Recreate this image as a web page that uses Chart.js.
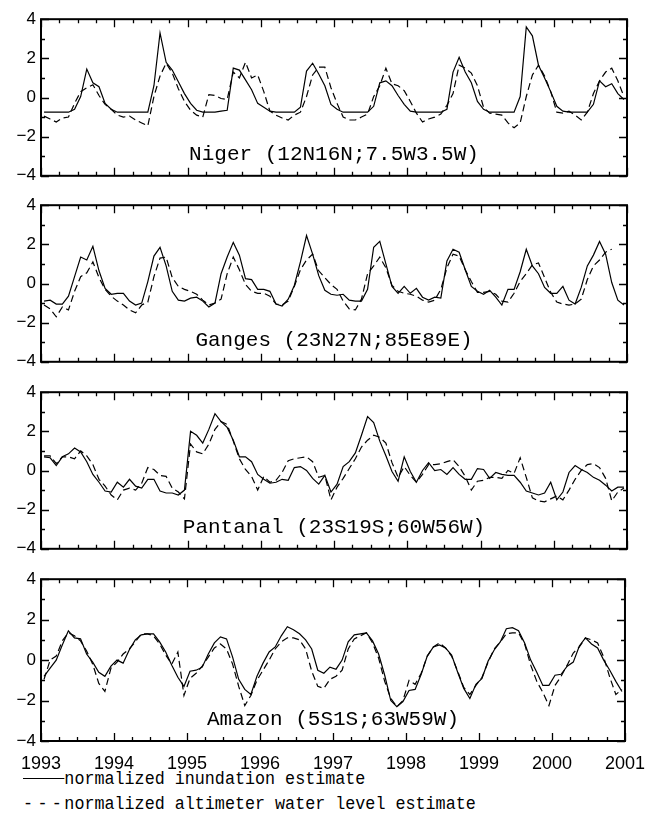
<!DOCTYPE html>
<html>
<head>
<meta charset="utf-8">
<script src="https://cdn.jsdelivr.net/npm/chart.js@4.4.1/dist/chart.umd.min.js"></script>
<style>
body { margin: 0; background: #fff; }
#wrap { position: relative; width: 657px; height: 821px; }
#wrap canvas { position: absolute; left: 0; }
.legend { position: absolute; left: 23px; font-family: "Liberation Mono", monospace; font-size: 19px; color: #000; white-space: pre; line-height: 20px; transform: scaleX(0.88); transform-origin: left center; }
.mark { display: inline-block; width: 47px; vertical-align: middle; }
.mark.solid { border-top: 1.3px solid #000; }
.mark.dash { letter-spacing: 5px; vertical-align: baseline; }
</style>
</head>
<body>
<div id="wrap">
  <div class="legend" style="top:769px"><span class="mark solid"></span>normalized inundation estimate</div>
  <div class="legend" style="top:794px"><span class="mark dash">---</span>normalized altimeter water level estimate</div>
</div>
<script>
// monthly values, Jan 1993 .. Dec 2000 (one row per year)
const nigerInund = [
  -0.75,-0.75,-0.75,-0.75,-0.75,-0.6,0.05,1.45,0.75,0.55,-0.3,-0.6,
  -0.75,-0.75,-0.75,-0.75,-0.75,-0.75,0.6,3.3,1.8,1.4,0.8,0.2,
  -0.3,-0.65,-0.75,-0.75,-0.75,-0.7,-0.65,1.5,1.4,0.9,0.4,-0.3,
  -0.5,-0.7,-0.75,-0.75,-0.75,-0.75,-0.5,1.35,1.75,1.2,0.6,-0.35,
  -0.6,-0.75,-0.75,-0.75,-0.75,-0.75,-0.45,0.75,0.85,0.6,0.1,-0.35,
  -0.7,-0.75,-0.75,-0.75,-0.75,-0.75,-0.6,1.3,2.05,1.3,0.75,-0.2,
  -0.6,-0.75,-0.75,-0.75,-0.75,-0.75,0.05,3.6,3.15,1.65,1.0,0.3,
  -0.45,-0.7,-0.75,-0.75,-0.75,-0.75,-0.35,0.85,0.55,0.7,0.2,-0.1
];
const nigerAlt = [
  -0.95,-1.1,-1.25,-1.05,-1.0,-0.3,0.3,0.5,0.65,0.1,-0.35,-0.6,
  -0.9,-1.0,-0.95,-1.15,-1.3,-1.45,0.05,1.1,1.75,1.25,0.45,-0.2,
  -0.65,-0.9,-1.0,0.15,0.1,-0.05,-0.1,1.3,1.0,1.8,1.0,1.15,
  0.3,-0.7,-0.9,-1.05,-1.15,-0.9,-0.75,0.05,1.15,1.55,1.55,0.5,
  -0.3,-1.0,-1.15,-1.15,-1.0,-0.85,0.05,0.6,1.5,0.7,0.6,0.35,
  -0.2,-0.8,-1.25,-1.1,-1.0,-0.85,-0.4,0.2,1.65,1.5,1.25,0.6,
  -0.5,-0.8,-0.85,-0.9,-1.3,-1.55,-1.3,0.05,1.15,1.65,1.1,0.3,
  -0.75,-0.8,-0.7,-0.9,-1.15,-0.75,0.2,0.85,1.3,1.5,0.85,0.05
];
const gangesInund = [
  -0.9,-0.85,-1.05,-1.05,-0.65,0.35,1.35,1.2,1.9,0.65,-0.25,-0.55,
  -0.5,-0.5,-0.9,-1.1,-1.0,0.1,1.4,1.85,0.9,-0.4,-0.85,-0.9,
  -0.75,-0.7,-0.9,-1.2,-1.0,0.5,1.35,2.1,1.45,0.25,0.2,-0.3,
  -0.3,-0.4,-1.05,-1.15,-0.8,-0.1,1.1,2.45,1.5,0.4,-0.35,-0.55,
  -0.6,-0.55,-0.85,-0.9,-0.9,-0.3,1.85,2.15,1.0,-0.15,-0.5,-0.15,
  -0.5,-0.25,-0.7,-0.85,-0.7,-0.75,1.15,1.75,1.6,0.7,-0.15,-0.4,
  -0.55,-0.35,-0.7,-1.1,-0.3,-0.3,0.6,1.75,0.9,0.5,-0.2,-0.5,
  -0.5,-0.15,-0.85,-1.05,-0.2,0.9,1.45,2.15,1.5,0.05,-0.85,-1.1
];
const gangesAlt = [
  -1.1,-1.3,-1.7,-1.2,-1.35,-0.4,0.35,0.55,1.1,0.3,-0.3,-0.65,
  -0.9,-1.1,-1.35,-1.5,-1.1,-0.95,0.35,1.3,1.35,0.3,-0.15,-0.3,
  -0.4,-0.55,-0.85,-1.1,-1.0,-0.8,0.5,1.35,0.7,-0.05,-0.4,-0.5,
  -0.5,-0.65,-1.05,-1.1,-0.9,-0.15,0.7,1.2,1.5,0.65,0.3,-0.05,
  -0.3,-0.9,-1.3,-1.35,-0.8,0.5,0.9,1.35,0.8,-0.1,-0.4,-0.5,
  -0.55,-0.65,-0.85,-0.95,-0.85,-0.3,0.8,1.5,1.4,0.7,0.1,-0.45,
  -0.45,-0.4,-0.55,-0.9,-0.95,-0.5,0.1,0.5,0.95,1.05,0.3,-0.45,
  -0.95,-1.05,-1.1,-1.05,-0.8,0.2,0.9,1.2,1.6,1.75,null,null
];
const pantanalInund = [
  0.7,0.65,0.25,0.7,0.85,1.15,0.95,0.45,-0.2,-0.6,-1.05,-1.1,
  -0.6,-0.85,-0.45,-0.8,-0.9,-0.45,-0.45,-1.05,-1.15,-1.15,-1.25,-1.0,
  2.0,1.8,1.4,2.1,2.9,2.5,2.2,1.55,0.7,0.7,0.45,-0.2,
  -0.45,-0.65,-0.6,-0.45,-0.5,0.15,0.2,0.0,-0.4,-0.7,-0.25,-1.1,
  -0.7,0.2,0.45,0.9,1.8,2.75,2.45,1.5,0.75,-0.05,-0.55,0.7,
  -0.05,-0.6,0.0,0.4,0.0,0.05,-0.2,0.15,-0.2,-0.45,-0.45,0.1,
  0.05,-0.4,-0.1,-0.2,-0.25,-0.25,-0.6,-1.05,-1.15,-1.25,-1.15,-0.6,
  -1.5,-1.1,-0.1,0.25,0.05,-0.1,-0.35,-0.5,-0.75,-1.05,-0.85,-0.85
];
const pantanalAlt = [
  0.75,0.75,0.35,0.7,0.7,0.6,1.0,0.75,0.3,-0.45,-0.8,-1.25,
  -1.5,-1.0,-0.9,-1.0,-0.65,0.15,0.05,-0.25,-0.3,-0.9,-1.1,-1.45,
  1.35,0.95,0.85,1.35,2.1,2.5,2.35,1.5,0.6,0.05,-0.3,-1.0,
  -0.3,-0.6,-0.5,-0.1,0.5,0.6,0.65,0.7,0.45,-0.35,-0.25,-1.5,
  -0.85,-0.4,0.1,0.6,1.2,1.55,1.8,1.7,1.4,0.4,-0.35,0.2,
  -0.25,-0.6,-0.2,0.3,0.3,0.35,0.45,0.55,0.2,-0.3,-1.0,-0.55,
  -0.5,-0.35,-0.35,-0.4,0.0,-0.15,0.65,-0.35,-1.4,-1.55,-1.6,-1.45,
  -1.3,-1.5,-1.0,-0.45,0.0,0.3,0.35,0.15,-0.4,-1.55,-1.1,-0.9
];
const amazonInund = [
  -0.8,-0.4,0.0,0.75,1.45,1.1,1.05,0.3,-0.1,-0.6,-0.8,-0.3,
  0.0,-0.15,0.5,1.0,1.25,1.3,1.3,0.9,0.4,-0.25,-0.85,-1.3,
  -0.55,-0.5,-0.35,0.3,0.85,1.15,1.05,0.15,-0.95,-1.45,-1.7,-0.8,
  -0.15,0.4,0.65,1.2,1.65,1.5,1.3,1.0,0.55,-0.5,-0.65,-0.35,
  -0.45,0.0,0.9,1.25,1.3,1.35,0.95,0.3,-0.75,-2.0,-2.3,-2.05,
  -1.5,-1.45,-0.7,0.2,0.65,0.75,0.6,0.25,-0.6,-1.4,-1.9,-1.2,
  -0.9,-0.05,0.5,0.9,1.55,1.6,1.45,0.85,0.0,-0.6,-1.25,-1.25,
  -0.75,-0.7,-0.3,-0.1,0.7,1.1,0.8,0.6,0.0,-0.5,-1.05,-1.55
];
const amazonAlt = [
  -0.95,0.0,0.2,0.95,1.35,1.2,0.95,0.45,-0.2,-1.15,-1.55,-0.4,
  -0.1,0.3,0.55,0.9,1.3,1.3,1.2,0.8,0.25,-0.2,0.4,-1.75,
  -0.9,-0.65,-0.3,0.15,0.6,0.8,0.55,-0.2,-1.3,-2.25,-1.75,-1.0,
  -0.5,0.0,0.55,0.9,1.1,1.1,1.0,0.55,-0.55,-1.3,-1.4,-0.95,
  -0.8,-0.5,0.55,1.05,1.2,1.35,0.85,0.1,-1.05,-1.9,-2.3,-2.0,
  -1.0,-1.2,-0.65,0.2,0.65,0.85,0.6,0.2,-0.55,-1.35,-1.7,-1.25,
  -0.85,-0.1,0.55,0.9,1.3,1.35,1.35,0.8,-0.25,-1.05,-1.6,-2.25,
  -1.25,-0.8,-0.25,0.35,0.65,1.1,1.0,0.85,0.15,-0.85,-1.7,-1.45
];

const panelNames = ['Niger (12N16N;7.5W3.5W)', 'Ganges (23N27N;85E89E)', 'Pantanal (23S19S;60W56W)', 'Amazon (5S1S;63W59W)'];
const startYear = 1993;
const endYear = 2001;

// frame, inward ticks on all four sides and the region name
const framePlugin = {
  id: 'frame',
  afterDraw(chart, args, opts) {
    const ctx = chart.ctx;
    const a = chart.chartArea;
    const x = chart.scales.x, y = chart.scales.y;
    ctx.save();
    ctx.strokeStyle = '#000';
    ctx.lineWidth = 1.3;
    ctx.beginPath();
    for (let q = startYear * 4; q <= endYear * 4; q++) {
      const px = Math.round(x.getPixelForValue(q / 4)) + 0.5;
      const len = q % 4 === 0 ? 8 : 4;
      ctx.moveTo(px, a.top); ctx.lineTo(px, a.top + len);
      ctx.moveTo(px, a.bottom); ctx.lineTo(px, a.bottom - len);
    }
    for (let v = -4; v <= 4; v++) {
      const py = Math.round(y.getPixelForValue(v)) + 0.5;
      const len = v % 2 === 0 ? 8 : 4;
      ctx.moveTo(a.left, py); ctx.lineTo(a.left + len, py);
      ctx.moveTo(a.right, py); ctx.lineTo(a.right - len, py);
    }
    ctx.stroke();
    ctx.lineWidth = 2;
    ctx.strokeRect(a.left, a.top, a.right - a.left, a.bottom - a.top);
    ctx.fillStyle = '#000';
    ctx.font = '21px "Liberation Mono", monospace';
    ctx.textAlign = 'center';
    ctx.textBaseline = 'alphabetic';
    ctx.fillText(opts.title, (a.left + a.right) / 2, y.getPixelForValue(-3.2));
    ctx.restore();
  }
};

function toPoints(values) {
  return values.map((v, i) => ({ x: startYear + (i + 0.5) / 12, y: v }));
}

function makePanel(idx, top, inund, alt) {
  const last = idx === panelNames.length - 1;
  const canvas = document.createElement('canvas');
  canvas.width = 657;
  canvas.height = last ? 217 : 187;
  canvas.style.top = (top - 10) + 'px';
  document.getElementById('wrap').appendChild(canvas);

  new Chart(canvas.getContext('2d'), {
    type: 'line',
    data: {
      datasets: [
        { data: toPoints(inund), borderColor: '#000', borderWidth: 1.2, pointRadius: 0, tension: 0 },
        { data: toPoints(alt), borderColor: '#000', borderWidth: 1.2, borderDash: [7, 4], pointRadius: 0, tension: 0 }
      ]
    },
    options: {
      responsive: false,
      animation: false,
      layout: { padding: { top: 10, right: 30, bottom: last ? 0 : 10, left: 0 } },
      plugins: {
        legend: { display: false },
        tooltip: { enabled: false },
        frame: { title: panelNames[idx] }
      },
      scales: {
        x: {
          type: 'linear', min: startYear, max: endYear,
          grid: { display: false, drawTicks: false },
          border: { display: false },
          ticks: {
            display: last, stepSize: 1, padding: 12, color: '#000',
            font: { family: 'Liberation Sans', size: 18 },
            maxRotation: 0,
            callback: v => String(v)
          },
          afterFit: s => { s.height = last ? 40 : 0; }
        },
        y: {
          min: -4, max: 4,
          grid: { display: false, drawTicks: false },
          border: { display: false },
          ticks: {
            stepSize: 2, padding: 5, color: '#000',
            font: { family: 'Liberation Sans', size: 17 },
            callback: v => v < 0 ? '\u2212' + Math.abs(v) : String(v)
          },
          afterFit: s => { s.width = 41; }
        }
      }
    },
    plugins: [framePlugin]
  });
}

makePanel(0, 14, nigerInund, nigerAlt);
makePanel(1, 200, gangesInund, gangesAlt);
makePanel(2, 387, pantanalInund, pantanalAlt);
makePanel(3, 574, amazonInund, amazonAlt);
</script>
</body>
</html>
